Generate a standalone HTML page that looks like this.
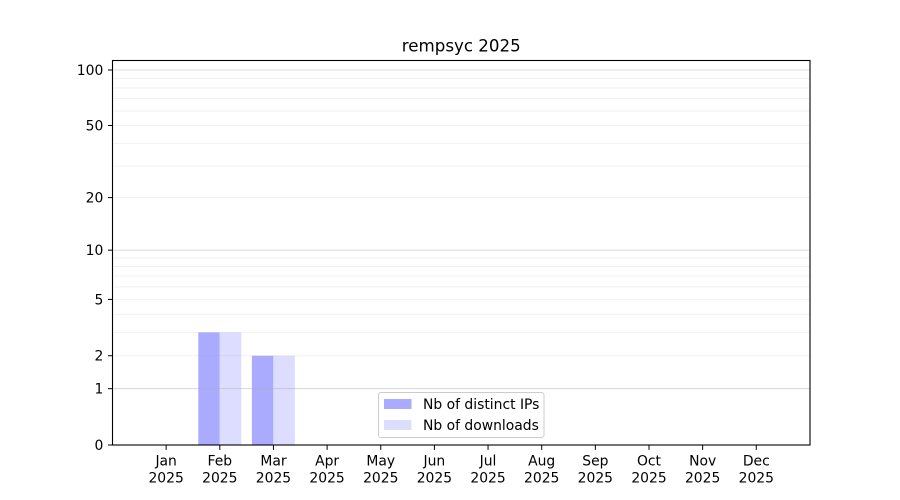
<!DOCTYPE html>
<html><head><meta charset="utf-8"><style>
html,body{margin:0;padding:0;background:#fff;}
svg{display:block;font-family:"DejaVu Sans","Liberation Sans",sans-serif;}
</style></head><body>
<svg width="900" height="500" viewBox="0 0 900 500" xmlns="http://www.w3.org/2000/svg">
<rect width="900" height="500" fill="#fff"/>
<!-- bars -->
<g>
<rect x="198.3" y="332.35" width="21.46" height="112.65" fill="#aaaaff"/>
<rect x="219.8" y="332.35" width="21.46" height="112.65" fill="#ddddff"/>
<rect x="251.9" y="355.73" width="21.46" height="89.27" fill="#aaaaff"/>
<rect x="273.4" y="355.73" width="21.46" height="89.27" fill="#ddddff"/>
</g>
<!-- minor grid -->
<g stroke="#b0b0b0" stroke-opacity="0.22" stroke-width="0.8">
<line x1="113" x2="810" y1="355.73" y2="355.73"/>
<line x1="113" x2="810" y1="332.35" y2="332.35"/>
<line x1="113" x2="810" y1="314.22" y2="314.22"/>
<line x1="113" x2="810" y1="299.41" y2="299.41"/>
<line x1="113" x2="810" y1="286.88" y2="286.88"/>
<line x1="113" x2="810" y1="276.03" y2="276.03"/>
<line x1="113" x2="810" y1="266.46" y2="266.46"/>
<line x1="113" x2="810" y1="257.9" y2="257.9"/>
<line x1="113" x2="810" y1="197.61" y2="197.61"/>
<line x1="113" x2="810" y1="165.97" y2="165.97"/>
<line x1="113" x2="810" y1="143.25" y2="143.25"/>
<line x1="113" x2="810" y1="125.51" y2="125.51"/>
<line x1="113" x2="810" y1="110.97" y2="110.97"/>
<line x1="113" x2="810" y1="98.63" y2="98.63"/>
<line x1="113" x2="810" y1="87.92" y2="87.92"/>
<line x1="113" x2="810" y1="78.46" y2="78.46"/>
</g>
<!-- major grid -->
<g stroke="#b0b0b0" stroke-opacity="0.6" stroke-width="0.8">
<line x1="113" x2="810" y1="388.68" y2="388.68"/>
<line x1="113" x2="810" y1="250.16" y2="250.16"/>
<line x1="113" x2="810" y1="70" y2="70"/>
</g>
<!-- axes frame -->
<rect x="112.5" y="60.5" width="697.5" height="384.5" fill="none" stroke="#000" stroke-width="1.1"/>
<!-- y ticks -->
<g stroke="#000" stroke-width="1">
<line x1="108" x2="112.5" y1="445" y2="445"/>
<line x1="108" x2="112.5" y1="388.68" y2="388.68"/>
<line x1="108" x2="112.5" y1="355.73" y2="355.73"/>
<line x1="108" x2="112.5" y1="299.41" y2="299.41"/>
<line x1="108" x2="112.5" y1="250.16" y2="250.16"/>
<line x1="108" x2="112.5" y1="197.61" y2="197.61"/>
<line x1="108" x2="112.5" y1="125.51" y2="125.51"/>
<line x1="108" x2="112.5" y1="70" y2="70"/>
</g>
<g font-size="13.9" text-anchor="end" fill="#000">
<text x="103.3" y="450">0</text>
<text x="103.3" y="393.7">1</text>
<text x="103.3" y="360.7">2</text>
<text x="103.3" y="304.4">5</text>
<text x="103.3" y="255.2">10</text>
<text x="103.3" y="202.6">20</text>
<text x="103.3" y="130.5">50</text>
<text x="103.3" y="75">100</text>
</g>
<!-- x ticks -->
<g stroke="#000" stroke-width="1">
<line x1="166.15" x2="166.15" y1="445" y2="449.9"/>
<line x1="219.8" x2="219.8" y1="445" y2="449.9"/>
<line x1="273.45" x2="273.45" y1="445" y2="449.9"/>
<line x1="327.1" x2="327.1" y1="445" y2="449.9"/>
<line x1="380.75" x2="380.75" y1="445" y2="449.9"/>
<line x1="434.4" x2="434.4" y1="445" y2="449.9"/>
<line x1="488.05" x2="488.05" y1="445" y2="449.9"/>
<line x1="541.7" x2="541.7" y1="445" y2="449.9"/>
<line x1="595.35" x2="595.35" y1="445" y2="449.9"/>
<line x1="649" x2="649" y1="445" y2="449.9"/>
<line x1="702.65" x2="702.65" y1="445" y2="449.9"/>
<line x1="756.3" x2="756.3" y1="445" y2="449.9"/>
</g>
<g font-size="13.9" text-anchor="middle" fill="#000">
<text x="166.15" y="465.7">Jan</text><text x="166.15" y="482.3">2025</text>
<text x="219.8" y="465.7">Feb</text><text x="219.8" y="482.3">2025</text>
<text x="273.45" y="465.7">Mar</text><text x="273.45" y="482.3">2025</text>
<text x="327.1" y="465.7">Apr</text><text x="327.1" y="482.3">2025</text>
<text x="380.75" y="465.7">May</text><text x="380.75" y="482.3">2025</text>
<text x="434.4" y="465.7">Jun</text><text x="434.4" y="482.3">2025</text>
<text x="488.05" y="465.7">Jul</text><text x="488.05" y="482.3">2025</text>
<text x="541.7" y="465.7">Aug</text><text x="541.7" y="482.3">2025</text>
<text x="595.35" y="465.7">Sep</text><text x="595.35" y="482.3">2025</text>
<text x="649" y="465.7">Oct</text><text x="649" y="482.3">2025</text>
<text x="702.65" y="465.7">Nov</text><text x="702.65" y="482.3">2025</text>
<text x="756.3" y="465.7">Dec</text><text x="756.3" y="482.3">2025</text>
</g>
<!-- title -->
<text x="461.25" y="51.7" font-size="16.67" text-anchor="middle" fill="#000">rempsyc 2025</text>
<!-- legend -->
<rect x="378.5" y="392.5" width="165.5" height="45" rx="2.5" ry="2.5" fill="#fff" fill-opacity="0.8" stroke="#cccccc" stroke-width="1"/>
<rect x="384" y="399" width="27.5" height="10" fill="#aaaaff"/>
<rect x="384" y="420" width="27.5" height="10" fill="#ddddff"/>
<g font-size="13.9" fill="#000">
<text x="423" y="409">Nb of distinct IPs</text>
<text x="423" y="430">Nb of downloads</text>
</g>
</svg>
</body></html>
